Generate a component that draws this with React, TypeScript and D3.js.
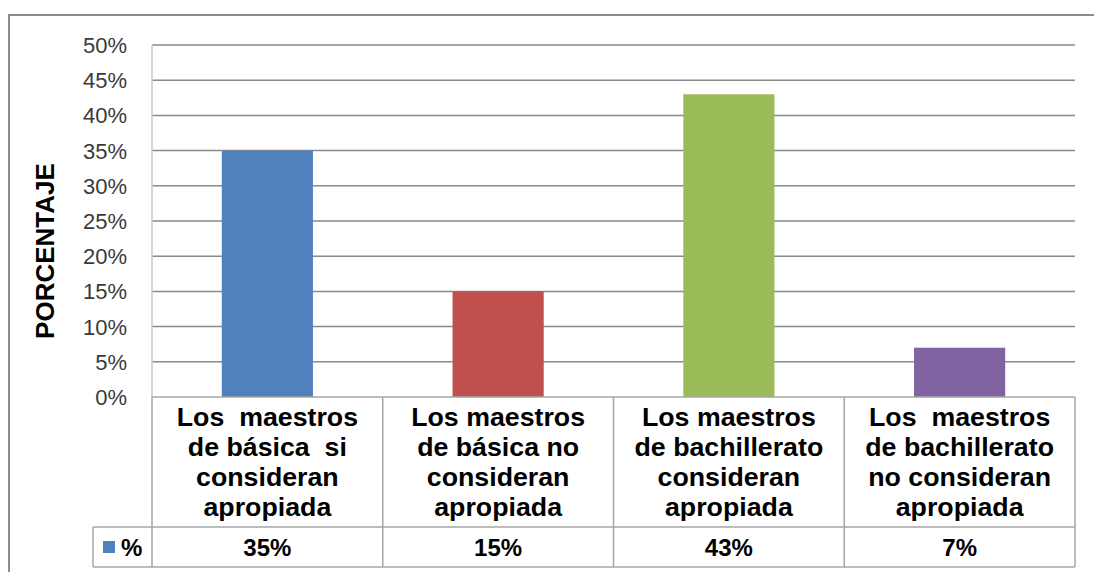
import { useEffect, useRef } from 'react';
import * as d3 from 'd3';

const categories = ['c1', 'c2', 'c3', 'c4'];
const categoryLines = [
  ['Los  maestros', 'de básica  si', 'consideran', 'apropiada'],
  ['Los maestros', 'de básica no', 'consideran', 'apropiada'],
  ['Los maestros', 'de bachillerato', 'consideran', 'apropiada'],
  ['Los  maestros', 'de bachillerato', 'no consideran', 'apropiada'],
];
const values = [0.35, 0.15, 0.43, 0.07];
const valueLabels = ['35%', '15%', '43%', '7%'];
const barColors = ['#4F81BD', '#C0504D', '#9BBB59', '#8064A2'];
const yTicks = [0, 0.05, 0.1, 0.15, 0.2, 0.25, 0.3, 0.35, 0.4, 0.45, 0.5];
const seriesName = '%';

export default function App() {
  const svgRef = useRef<SVGSVGElement>(null);

  useEffect(() => {
    if (!svgRef.current) return;
    const width = 1094;
    const height = 572;
    const left = 152;
    const right = 1075;
    const top = 45;
    const bottom = 397;
    const rowTop = 527;
    const rowBottom = 567;
    const legendLeft = 93;
    const font = '"Liberation Sans", Arial, sans-serif';

    const svg = d3.select(svgRef.current);
    svg.selectAll('*').remove();
    svg.attr('width', width).attr('height', height);

    // outer frame
    svg.append('rect')
      .attr('x', 9).attr('y', 15)
      .attr('width', width).attr('height', height)
      .attr('fill', '#fff')
      .attr('stroke', '#8c8c8c')
      .attr('stroke-width', 2);

    const x = d3.scaleBand<string>().domain(categories).range([left, right]).padding(0);
    const y = d3.scaleLinear().domain([0, 0.5]).range([bottom, top]);

    // gridlines
    svg.append('g')
      .selectAll('line')
      .data(yTicks.filter((t) => t > 0))
      .join('line')
      .attr('x1', left).attr('x2', right)
      .attr('y1', (d) => y(d)).attr('y2', (d) => y(d))
      .attr('stroke', '#8a8a8a')
      .attr('stroke-width', 1.5);

    // left axis line
    svg.append('line')
      .attr('x1', left).attr('x2', left)
      .attr('y1', top).attr('y2', bottom)
      .attr('stroke', '#c8c8c8')
      .attr('stroke-width', 1.5);

    // tick labels
    svg.append('g')
      .selectAll('text')
      .data(yTicks)
      .join('text')
      .attr('x', 127)
      .attr('y', (d) => y(d))
      .attr('dy', '0.36em')
      .attr('text-anchor', 'end')
      .attr('font-family', font)
      .attr('font-size', 22)
      .attr('fill', '#3a3a3a')
      .text((d) => `${Math.round(d * 100)}%`);

    // axis title
    svg.append('text')
      .attr('transform', 'translate(54,251) rotate(-90)')
      .attr('text-anchor', 'middle')
      .attr('font-family', font)
      .attr('font-size', 26)
      .attr('font-weight', 'bold')
      .attr('fill', '#000')
      .text('PORCENTAJE');

    // bars
    const barW = x.bandwidth() * 0.395;
    svg.append('g')
      .selectAll('rect')
      .data(values)
      .join('rect')
      .attr('x', (d, i) => x(categories[i])! + (x.bandwidth() - barW) / 2)
      .attr('y', (d) => y(d))
      .attr('width', barW)
      .attr('height', (d) => y(0) - y(d))
      .attr('fill', (d, i) => barColors[i]);

    // data table
    const tg = svg.append('g').attr('stroke', '#a6a6a6').attr('stroke-width', 1.5);
    tg.append('line').attr('x1', left).attr('x2', right).attr('y1', bottom).attr('y2', bottom);
    tg.append('line').attr('x1', legendLeft).attr('x2', right).attr('y1', rowTop).attr('y2', rowTop);
    tg.append('line').attr('x1', legendLeft).attr('x2', right).attr('y1', rowBottom).attr('y2', rowBottom);
    tg.append('line').attr('x1', legendLeft).attr('x2', legendLeft).attr('y1', rowTop).attr('y2', rowBottom);
    tg.selectAll('line.v')
      .data([...categories.map((c) => x(c)!), right])
      .join('line')
      .attr('class', 'v')
      .attr('x1', (d) => d).attr('x2', (d) => d)
      .attr('y1', bottom).attr('y2', rowBottom);

    // category labels (slightly widened, as in the source)
    const lab = svg.append('g')
      .selectAll('g')
      .data(categoryLines)
      .join('g')
      .attr('transform', (d, i) => `translate(${x(categories[i])! + x.bandwidth() / 2},0) scale(1.07,1)`)
      .append('text')
      .attr('font-family', font)
      .attr('font-size', 25)
      .attr('font-weight', 'bold')
      .attr('fill', '#000')
      .attr('text-anchor', 'middle')
      .style('white-space', 'pre');
    lab.selectAll('tspan')
      .data((d) => d)
      .join('tspan')
      .attr('x', 0)
      .attr('y', (d, j) => 426 + j * 30)
      .text((d) => d);

    // value row
    svg.append('g')
      .selectAll('text')
      .data(valueLabels)
      .join('text')
      .attr('x', (d, i) => x(categories[i])! + x.bandwidth() / 2)
      .attr('y', (rowTop + rowBottom) / 2)
      .attr('dy', '0.36em')
      .attr('text-anchor', 'middle')
      .attr('font-family', font)
      .attr('font-size', 24)
      .attr('font-weight', 'bold')
      .attr('fill', '#000')
      .text((d) => d);

    // legend key
    svg.append('rect')
      .attr('x', 103).attr('y', 541)
      .attr('width', 12).attr('height', 12)
      .attr('fill', barColors[0]);
    svg.append('text')
      .attr('x', 121)
      .attr('y', (rowTop + rowBottom) / 2)
      .attr('dy', '0.36em')
      .attr('font-family', font)
      .attr('font-size', 24)
      .attr('font-weight', 'bold')
      .attr('fill', '#000')
      .text(seriesName);
  }, []);

  return (
    <div style={{ position: 'absolute', left: 0, top: 0 }}>
      <svg ref={svgRef} style={{ display: 'block' }} />
    </div>
  );
}
